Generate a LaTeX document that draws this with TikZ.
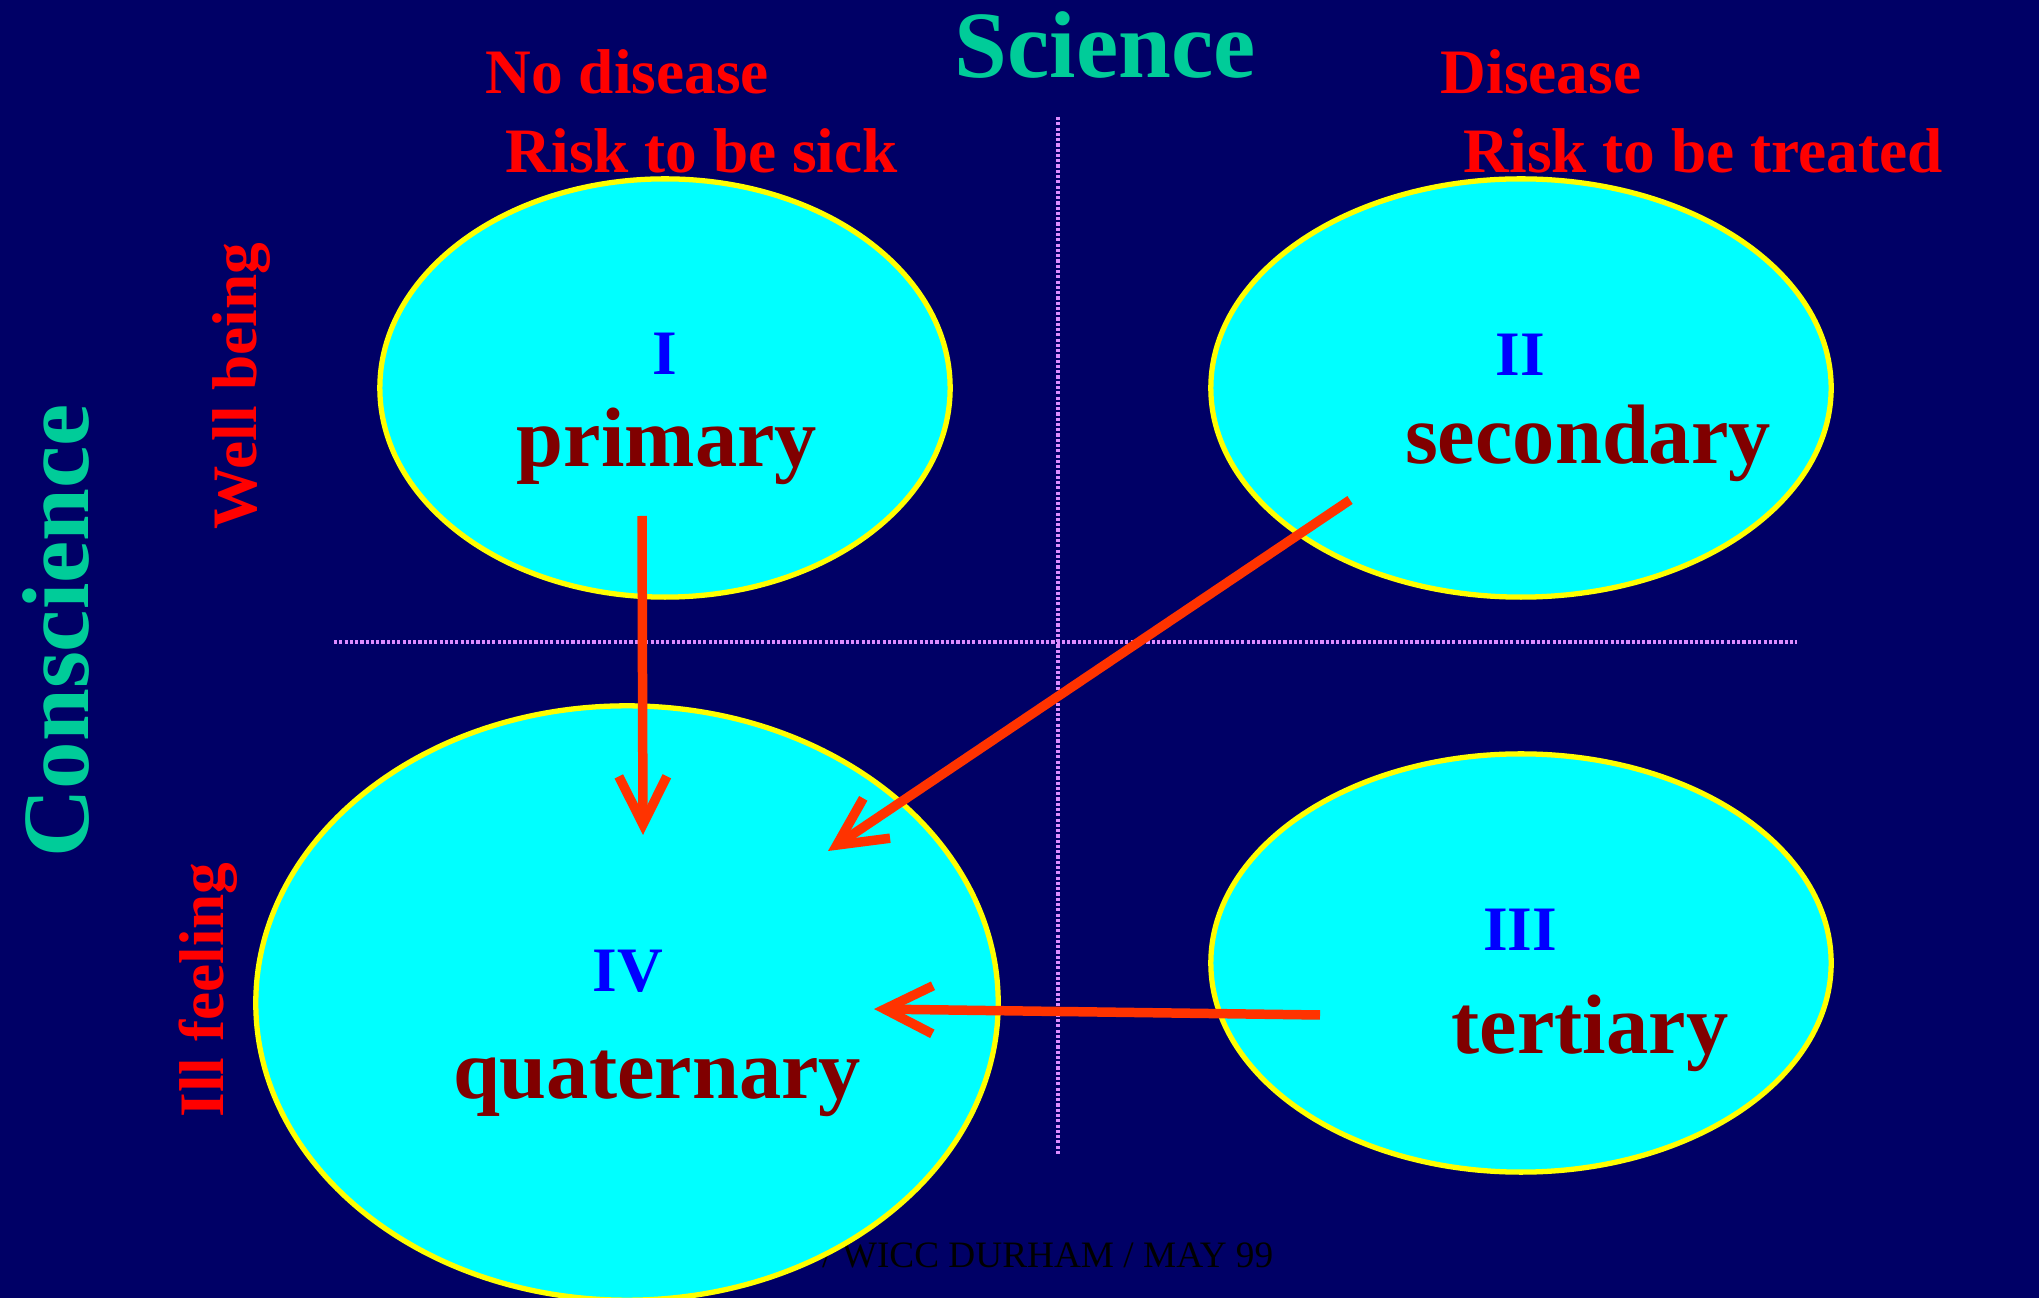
\documentclass[tikz,border=0pt]{standalone}
\usepackage{fontspec}
\setmainfont{Liberation Serif}
\usetikzlibrary{shapes.geometric, positioning, arrows.meta}
\definecolor{navybg}{RGB}{0,0,102}
\definecolor{zonefill}{RGB}{0,255,255}
\definecolor{zoneline}{RGB}{255,255,0}
\definecolor{tealtext}{RGB}{0,204,153}
\definecolor{maroontext}{RGB}{128,0,0}
\definecolor{labelred}{RGB}{255,0,0}
\definecolor{numblue}{RGB}{0,0,255}
\definecolor{arrowred}{RGB}{255,51,0}
\definecolor{dotviolet}{RGB}{221,140,255}
\tikzset{
  zone/.style={ellipse, draw=zoneline, fill=zonefill, line width=1.5pt, inner sep=0pt},
  numeral/.style={font=\fontsize{18}{20}\selectfont\bfseries, text=numblue, anchor=base, inner sep=0pt},
  careword/.style={font=\fontsize{24}{28}\selectfont\bfseries, text=maroontext, anchor=base, inner sep=0pt},
  arrow/.style={line width=2.7pt, draw=arrowred, -{Straight Barb[length=4.8mm, width=4.8mm]}}
}

\begin{document}
\begin{tikzpicture}[
            x=0.01cm, y=-0.01cm,
            % Estilos de los textos
            axislabel/.style={font=\fontsize{27}{31}\selectfont\bfseries, text=tealtext, anchor=base, inner sep=0pt},
            sidelabel/.style={font=\fontsize{18}{20}\selectfont\bfseries, text=labelred, inner sep=0pt},
            divider/.style={draw=dotviolet, line width=0.9pt, dash pattern=on 0.9pt off 0.6pt}
        ]

            % Fondo
            \useasboundingbox (0,0) rectangle (2039,1298);
            \fill[navybg] (0,0) rectangle (2039,1298);

            % Ejes punteados
            \coordinate (axis_top) at (1058,117);
            \coordinate (axis_bottom) at (1058,1155);
            \coordinate (axis_left) at (334,642);
            \coordinate (axis_right) at (1797,642);
            \draw [divider] (axis_top) -- (axis_bottom);
            \draw [divider] (axis_left) -- (axis_right);

            % Titulos
            \node (science) [axislabel] at (1105,78) {Science};
            \node (conscience) [axislabel, rotate=90] at (88,631) {Conscience};
            \node (no_disease) [sidelabel, anchor=base west] at (485,94) {No disease};
            \node (risk_sick) [sidelabel, anchor=base west] at (505,173) {Risk to be sick};
            \node (disease) [sidelabel, anchor=base west] at (1440,94) {Disease};
            \node (risk_treated) [sidelabel, anchor=base west] at (1463,173) {Risk to be treated};
            \node (well_being) [sidelabel, anchor=base, rotate=90] at (256,386) {Well being};
            \node (ill_feeling) [sidelabel, anchor=base, rotate=90] at (223,990) {Ill feeling};

            % Pie (queda en parte bajo el nivel IV)
            \node (footer) [anchor=base east, inner sep=0pt, font=\fontsize{10.6}{12}\selectfont, text=black] at (1274,1267) {/ WICC DURHAM / MAY 99};

            % Niveles
            \node (primary) [zone, minimum width=5.70cm, minimum height=4.18cm] at (665,388) {};
            \node (secondary) [zone, minimum width=6.20cm, minimum height=4.18cm] at (1521,388) {};
            \node (tertiary) [zone, minimum width=6.20cm, minimum height=4.18cm] at (1521,963) {};
            \node (quaternary) [zone, minimum width=7.42cm, minimum height=5.94cm] at (627,1003) {};

            \node (num_primary) [numeral] at (665,375) {I};
            \node (word_primary) [careword] at (667,467) {primary};
            \node (num_secondary) [numeral] at (1520,376) {II};
            \node (word_secondary) [careword] at (1588,464) {secondary};
            \node (num_tertiary) [numeral] at (1520,951) {III};
            \node (word_tertiary) [careword] at (1590,1054) {tertiary};
            \node (num_quaternary) [numeral] at (628,992) {IV};
            \node (word_quaternary) [careword] at (657,1099) {quaternary};

            % Flechas hacia IV
            \coordinate (tail_primary) at (642,516);
            \coordinate (head_primary) at (643,835);
            \coordinate (tail_secondary) at (1350,500);
            \coordinate (head_secondary) at (828,851);
            \coordinate (tail_tertiary) at (1320,1015);
            \coordinate (head_tertiary) at (874,1009);
            \draw [arrow] (tail_primary) -- (head_primary);
            \draw [arrow] (tail_secondary) -- (head_secondary);
            \draw [arrow] (tail_tertiary) -- (head_tertiary);

        \end{tikzpicture}
\end{document}
